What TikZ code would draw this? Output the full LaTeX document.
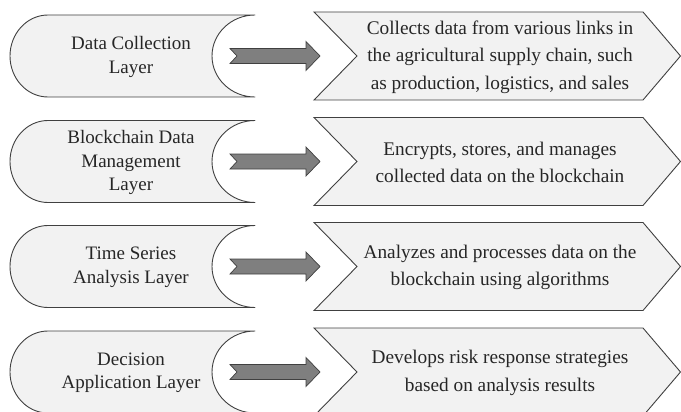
\documentclass[tikz,border=0pt]{standalone}
\usepackage{fontspec}
\setmainfont{Liberation Serif}
\definecolor{shapefill}{HTML}{F2F2F2}
\definecolor{shapeline}{HTML}{404040}
\definecolor{arrowfill}{HTML}{7F7F7F}
\definecolor{txt}{HTML}{262626}
\begin{document}
\begin{tikzpicture}[x=1pt,y=-1pt,
  layerbox/.style={fill=shapefill,draw=shapeline,line width=0.9pt,line join=round},
  descbox/.style={fill=shapefill,draw=shapeline,line width=0.9pt,line join=miter},
  blockarrow/.style={fill=arrowfill,draw=shapeline,line width=0.7pt,line join=miter},
  ltext/.style={align=center,text=txt,font=\fontsize{19}{23.5}\selectfont,inner sep=0pt},
  rtext/.style={align=center,text=txt,font=\fontsize{19.3}{27.5}\selectfont,inner sep=0pt}]
\useasboundingbox (0,0) rectangle (681,412);
\def\h{41}
\def\H{44}
\foreach \c/\lt/\rt [count=\i] in {
  56/{Data Collection\\Layer}/{Collects data from various links in\\the agricultural supply chain, such\\as production, logistics, and sales},
  161.5/{Blockchain Data\\Management\\Layer}/{Encrypts, stores, and manages\\collected data on the blockchain},
  266.5/{Time Series\\Analysis Layer}/{Analyzes and processes data on the\\blockchain using algorithms},
  372/{Decision\\Application Layer}/{Develops risk response strategies\\based on analysis results}}{
  % left layer shape
  \path[layerbox] (48,\c-\h) -- (255,\c-\h)
    .. controls (231.3,\c-\h) and (212,\c-22.6) .. (212,\c)
    .. controls (212,\c+22.6) and (231.3,\c+\h) .. (255,\c+\h)
    -- (48,\c+\h)
    .. controls (27,\c+\h) and (10,\c+22.6) .. (10,\c)
    .. controls (10,\c-22.6) and (27,\c-\h) .. (48,\c-\h) -- cycle;
  % right chevron
  \path[descbox] (314,\c-\H) -- (643,\c-\H) -- (680.5,\c) -- (643,\c+\H)
    -- (314,\c+\H) -- (357,\c) -- cycle;
  % block arrow
  \coordinate (tail\i) at (230,\c);
  \coordinate (tip\i) at (320,\c);
  \path[blockarrow] (230,\c-7.5) -- (306,\c-7.5) -- (306,\c-14.5) -- (tip\i)
    -- (306,\c+14.5) -- (306,\c+7.5) -- (230,\c+7.5) -- (237,\c) -- cycle;
  % texts
  \node[ltext] (layer\i) at (131,\c+1) {\lt};
  \node[rtext] (desc\i) at (500,\c+1) {\rt};
}
\end{tikzpicture}
\end{document}
